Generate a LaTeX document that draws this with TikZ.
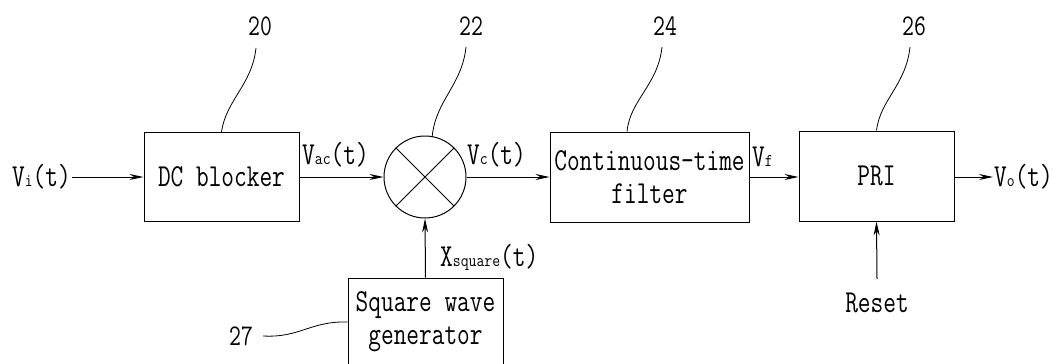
\documentclass[tikz,border=0pt]{standalone}
\usepackage{fontspec}
\setmonofont{Latin Modern Mono}[FakeStretch=0.77]
\newfontfamily\subf{Latin Modern Mono}[FakeStretch=0.85]
\usetikzlibrary{arrows.meta}
\newcommand{\sbs}[1]{{\subf\fontsize{18}{18}\selectfont #1}}
\begin{document}
\begin{tikzpicture}[x=1pt,y=-1pt,
  every node/.style={font=\ttfamily\fontsize{32}{33}\selectfont},
  blk/.style={draw, line width=1pt, inner sep=0pt, align=center},
  sig/.style={draw, line width=1pt, -{Stealth[length=14pt,width=6pt]}},
  lead/.style={draw, line width=0.8pt},
  lbl/.style={inner sep=1pt},
  num/.style={font=\ttfamily\fontsize{30}{30}\selectfont, inner sep=0pt}]
\useasboundingbox (0,0) rectangle (1052,364);
% blocks
\node[blk, minimum width=155pt, minimum height=89pt] (dc) at (221.5,177) {DC blocker};
\node[draw, circle, line width=1pt, minimum size=82pt, inner sep=0pt] (mix) at (425,177) {};
\draw[line width=0.8pt] (mix.north west) -- (mix.south east) (mix.north east) -- (mix.south west);
\node[blk, minimum width=199pt, minimum height=90pt] (filt) at (649.5,177) {Continuous-time\\filter};
\node[blk, minimum width=155pt, minimum height=90pt] (pri) at (876.5,176) {PRI};
\node[blk, minimum width=155pt, minimum height=88pt] (sq) at (425.5,322) {Square wave\\generator};
% signal labels
\node[lbl, anchor=east] (vi) at (72,177) {V\sbs{i}(t)};
\node[lbl, anchor=south west] (vac) at (301,168) {V\sbs{ac}(t)};
\node[lbl, anchor=south west] (vc) at (466,168) {V\sbs{c}(t)};
\node[lbl, anchor=south west] (vf) at (751,168) {V\sbs{f}};
\node[lbl, anchor=west] (vo) at (993,177) {V\sbs{o}(t)};
\node[lbl, anchor=west] (xs) at (439,257) {X\sbs{square}(t)};
\node (reset) at (877,303) {Reset};
\coordinate (rs) at (877,279);
% connectors
\draw[sig] (vi.east) -- (dc.west);
\draw[sig] (dc.east) -- (mix.west);
\draw[sig] (mix.east) -- (filt.west);
\draw[sig] (filt.east) -- (pri.west |- filt.east);
\draw[sig] (pri.east |- vo.west) -- (vo.west);
\draw[sig] (sq.north) -- (mix.south);
\draw[sig] (rs) -- (pri.south);
% reference numerals
\node[num] (n20) at (260,26) {20};
\node[num] (n22) at (471,26) {22};
\node[num] (n24) at (665,26) {24};
\node[num] (n26) at (914,26) {26};
\node[num] (n27) at (241,336) {27};
\coordinate (l20) at (256,48);
\coordinate (l22) at (466,47);
\coordinate (l24) at (662,47);
\coordinate (l26) at (910,47);
\draw[lead] (l20) .. controls (252,85) and (226,100) .. (dc.north);
\draw[lead] (l22) .. controls (462,85) and (436,100) .. (mix.80);
\draw[lead] (l24) .. controls (658,85) and (630,100) .. ([xshift=-22.5pt]filt.north);
\draw[lead] (l26) .. controls (906,85) and (880,100) .. (pri.north);
\draw[lead] ([xshift=10pt]n27.east) .. controls (300,338) and (310,321) .. (sq.west);
\end{tikzpicture}
\end{document}
